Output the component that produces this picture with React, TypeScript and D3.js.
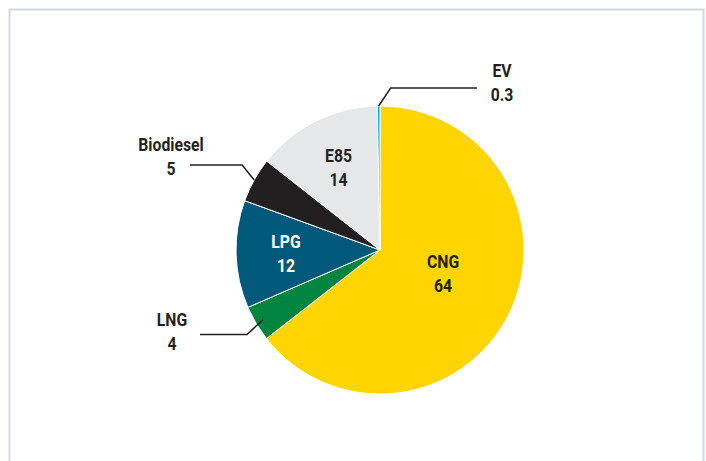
import React, { useEffect, useRef } from 'react';
import * as d3 from 'd3';

// share of alternative fuel vehicles, in %
const categories = ['CNG', 'LNG', 'LPG', 'Biodiesel', 'E85', 'EV'];
const values = [64, 4, 12, 5, 14, 0.3];
const valueLabels = ['64', '4', '12', '5', '14', '0.3'];
const colors = ['#FED500', '#00853F', '#00587A', '#231F20', '#E6E7E9', '#00AEEF'];
const labelColors = ['#231F20', '#231F20', '#FFFFFF', '#231F20', '#231F20', '#231F20'];

const W = 706;
const H = 461;
const FONT = 'Roboto, "Liberation Sans", sans-serif';
const NARROW = 0.83; // horizontal squeeze to mimic the condensed face

// inside labels: radius from the centre; outside labels: leader line geometry
const inside: Record<string, { r: number; dx: number; dy: number }> = {
    CNG: { r: 68, dx: 2, dy: -7 },
    LPG: { r: 94, dx: 0, dy: 0 },
    E85: { r: 93, dx: 0, dy: 0 },
};
const outside: Record<string, { r: number; elbow: [number, number]; end: number; tx: number; ty: number }> = {
    EV: { r: 144, elbow: [12, -18], end: 477, tx: 25, ty: -11 },
    Biodiesel: { r: 144, elbow: [-12, -15], end: 190, tx: -19, ty: -14 },
    LNG: { r: 136, elbow: [-16, 15], end: 200, tx: -28, ty: -8 },
};

const App: React.FC = () => {
    const svgRef = useRef<SVGSVGElement>(null);

    useEffect(() => {
        if (!svgRef.current) return;
        const svg = d3.select(svgRef.current);
        svg.selectAll('*').remove();

        // frame
        svg.append('rect')
            .attr('x', 9.5)
            .attr('y', 9.5)
            .attr('width', 694)
            .attr('height', H + 20)
            .attr('fill', '#fff')
            .attr('stroke', '#D3D9DF')
            .attr('stroke-width', 2);

        const cx = 380;
        const cy = 250;
        const radius = 144;

        const data = categories.map((c, i) => ({ name: c, value: values[i], label: valueLabels[i], i }));
        const pie = d3.pie<typeof data[0]>().sort(null).value(d => d.value);
        const arcs = pie(data);

        const arc = d3.arc<d3.PieArcDatum<typeof data[0]>>().innerRadius(0).outerRadius(radius);

        const g = svg.append('g').attr('transform', `translate(${cx},${cy})`);

        g.selectAll('path')
            .data(arcs)
            .join('path')
            .attr('d', arc)
            .attr('fill', d => colors[d.data.i])
            .attr('stroke', '#fff')
            .attr('stroke-width', 1);

        const lineH = 24;

        const addLabel = (x: number, y: number, name: string, value: string, fill: string) => {
            const t = g.append('text')
                .attr('transform', `translate(${x},${y}) scale(${NARROW},1)`)
                .attr('text-anchor', 'middle')
                .attr('fill', fill)
                .style('font-family', FONT)
                .style('font-size', '19px')
                .style('font-weight', 'bold');
            t.append('tspan').attr('x', 0).attr('y', 0).text(name);
            t.append('tspan').attr('x', 0).attr('y', lineH).text(value);
        };

        arcs.forEach(d => {
            const name = d.data.name;
            if (inside[name]) {
                const o = inside[name];
                const a = d3.arc<d3.PieArcDatum<typeof data[0]>>().innerRadius(o.r).outerRadius(o.r);
                const [x, y] = a.centroid(d);
                addLabel(x + o.dx, y + o.dy - 5, name, d.data.label, labelColors[d.data.i]);
            } else if (outside[name]) {
                const o = outside[name];
                const a = d3.arc<d3.PieArcDatum<typeof data[0]>>().innerRadius(o.r).outerRadius(o.r);
                const [x0, y0] = a.centroid(d);
                const x1 = x0 + o.elbow[0];
                const y1 = y0 + o.elbow[1];
                const xe = o.end - cx;
                g.append('path')
                    .attr('d', `M${x0},${y0}L${x1},${y1}L${xe},${y1}`)
                    .attr('fill', 'none')
                    .attr('stroke', '#231F20')
                    .attr('stroke-width', 1.5);
                addLabel(xe + o.tx, y1 + o.ty, name, d.data.label, labelColors[d.data.i]);
            }
        });
    }, []);

    return (
        <svg
            ref={svgRef}
            width={W}
            height={H}
            style={{ position: 'absolute', left: 0, top: 0, display: 'block' }}
        />
    );
};

export default App;
